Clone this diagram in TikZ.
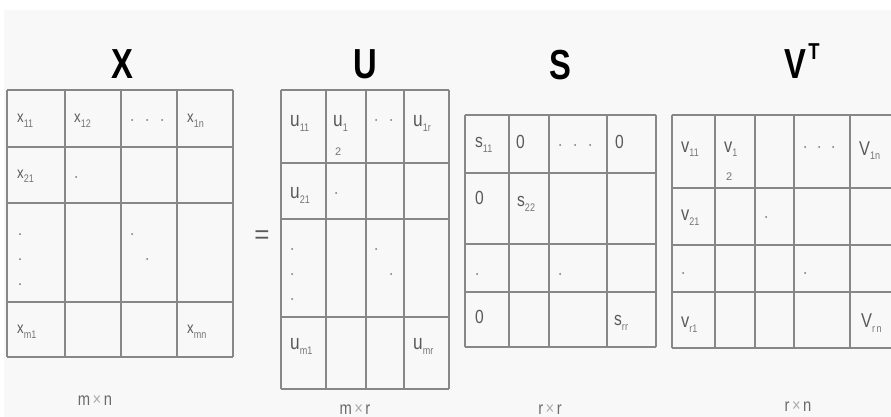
\documentclass[tikz,border=0pt]{standalone}
\usepackage{fontspec}
\setmainfont{Liberation Sans}
\definecolor{gridc}{HTML}{878787}
\definecolor{entc}{HTML}{5A5A5A}
\definecolor{subc}{HTML}{767676}
\definecolor{labc}{HTML}{6A6A6A}
\definecolor{bgc}{HTML}{F8F8F8}
\newcommand\subx[1]{\raisebox{-5pt}{\fontsize{11}{11}\selectfont\color{subc}#1}}
\newcommand\sqz[1]{\scalebox{0.82}[1]{#1}}
\begin{document}
\begin{tikzpicture}[x=1pt,y=-1pt,
  grid/.style={draw=gridc,line width=1.3pt},
  entx/.style={anchor=base west,inner sep=0,text=entc,font=\fontsize{16}{16}\selectfont},
  entu/.style={anchor=base west,inner sep=0,text=entc,font=\fontsize{21}{21}\selectfont},
  ents/.style={anchor=base west,inner sep=0,text=entc,font=\fontsize{19}{19}\selectfont},
  entv/.style={anchor=base west,inner sep=0,text=entc,font=\fontsize{20}{20}\selectfont},
  title/.style={inner sep=0,font=\fontsize{42}{42}\selectfont\bfseries},
  dimlab/.style={inner sep=0,text=labc,font=\fontsize{18}{18}\selectfont},
  dt/.style={fill=subc}]
\useasboundingbox (0,0) rectangle (891,417);
\fill[white] (0,0) rectangle (891,417);
\fill[bgc] (4,10) rectangle (891,417);

% ---------- titles ----------
\node[title] (tX) at (122,64) {\scalebox{0.78}[1]{X}};
\node[title] (tU) at (365,64) {\scalebox{0.78}[1]{U}};
\node[title] (tS) at (560,65) {\scalebox{0.78}[1]{S}};
\node[title] (tV) at (795,64) {\scalebox{0.78}[1]{V}};
\node[inner sep=0,font=\fontsize{23}{23}\selectfont\bfseries] (tT) at (814,52) {\scalebox{0.8}[1]{T}};
\node[inner sep=0,text=entc,font=\fontsize{26}{26}\selectfont] (eq) at (262,237) {=};

% ---------- grids ----------
\foreach \c in {7,65,121,177,233} \draw[grid] (\c,90) -- (\c,357);
\foreach \r in {90,147,203,302,357} \draw[grid] (7,\r) -- (233,\r);

\foreach \c in {281,326,366,404,449} \draw[grid] (\c,90) -- (\c,389);
\foreach \r in {90,163,219,317,389} \draw[grid] (281,\r) -- (449,\r);

\foreach \c in {465,509,549,607,656} \draw[grid] (\c,115) -- (\c,347);
\foreach \r in {115,173,244,292,347} \draw[grid] (465,\r) -- (656,\r);

\foreach \c in {672,715,755,794,850} \draw[grid] (\c,115) -- (\c,348);
\foreach \r in {115,188,245,292,348} \draw[grid] (672,\r) -- (895,\r);

% ---------- X entries ----------
\node[entx] (x11) at (17,123) {\sqz{x\subx{11}}};
\node[entx] (x12) at (74,123) {\sqz{x\subx{12}}};
\node[entx] (x1n) at (187,123) {\sqz{x\subx{1n}}};
\node[entx] (x21) at (17,178) {\sqz{x\subx{21}}};
\node[entx] (xm1) at (17,333) {\sqz{x\subx{m1}}};
\node[entx] (xmn) at (187,333) {\sqz{x\subx{mn}}};
\foreach \p in {(132,120),(147,120),(162,120),(76,177),(20,234),(20,259),(20,284),(132,234),(147,259)}
  \fill[dt] \p circle (1pt);

% ---------- U entries ----------
\node[entu] (u11) at (290,127) {\sqz{u\subx{11}}};
\node[entu] (u12) at (333,127) {\sqz{u\subx{1}}};
\node[inner sep=0,anchor=base west,text=subc,font=\fontsize{11}{11}\selectfont] (u12b) at (335,155) {2};
\node[entu] (u1r) at (413,127) {\sqz{u\subx{1r}}};
\node[entu] (u21) at (290,198) {\sqz{u\subx{21}}};
\node[entu] (um1) at (290,349) {\sqz{u\subx{m1}}};
\node[entu] (umr) at (413,349) {\sqz{u\subx{mr}}};
\foreach \p in {(376,120),(391,120),(336,193),(292,249),(292,274),(292,299),(376,249),(391,274)}
  \fill[dt] \p circle (1pt);

% ---------- S entries ----------
\node[ents] (s11) at (475,147) {\sqz{s\subx{11}}};
\node[ents] (s12) at (516,148) {\sqz{0}};
\node[ents] (s1r) at (615,148) {\sqz{0}};
\node[ents] (s21) at (475,204) {\sqz{0}};
\node[ents] (s22) at (517,206) {\sqz{s\subx{22}}};
\node[ents] (sr1) at (475,323) {\sqz{0}};
\node[ents] (srr) at (614,325) {\sqz{s\subx{rr}}};
\foreach \p in {(560,145),(575,145),(590,145),(477,274),(560,274)}
  \fill[dt] \p circle (1pt);

% ---------- V^T entries ----------
\node[entv] (v11) at (681,152) {\sqz{v\subx{11}}};
\node[entv] (v12) at (724,152) {\sqz{v\subx{1}}};
\node[inner sep=0,anchor=base west,text=subc,font=\fontsize{11}{11}\selectfont] (v12b) at (726,180) {2};
\node[entv] (v1n) at (859,155) {\sqz{V\subx{1n}}};
\node[entv] (v21) at (681,220) {\sqz{v\subx{21}}};
\node[entv] (vr1) at (681,327) {\sqz{v\subx{r1}}};
\node[entv] (vrn) at (861,327) {\sqz{V\subx{r\,n}}};
\foreach \p in {(805,147),(819,147),(833,147),(766,217),(683,273),(805,273)}
  \fill[dt] \p circle (1pt);

% ---------- dimension labels ----------
\node[dimlab] (dX) at (95,400) {\sqz{m\,{\color{gridc!70}×}\,n}};
\node[dimlab] (dU) at (355,409) {\sqz{m\,{\color{gridc!70}×}\,r}};
\node[dimlab] (dS) at (550,409) {\sqz{r\,{\color{gridc!70}×}\,r}};
\node[dimlab] (dV) at (798,406) {\sqz{r\,{\color{gridc!70}×}\,n}};
\end{tikzpicture}
\end{document}
